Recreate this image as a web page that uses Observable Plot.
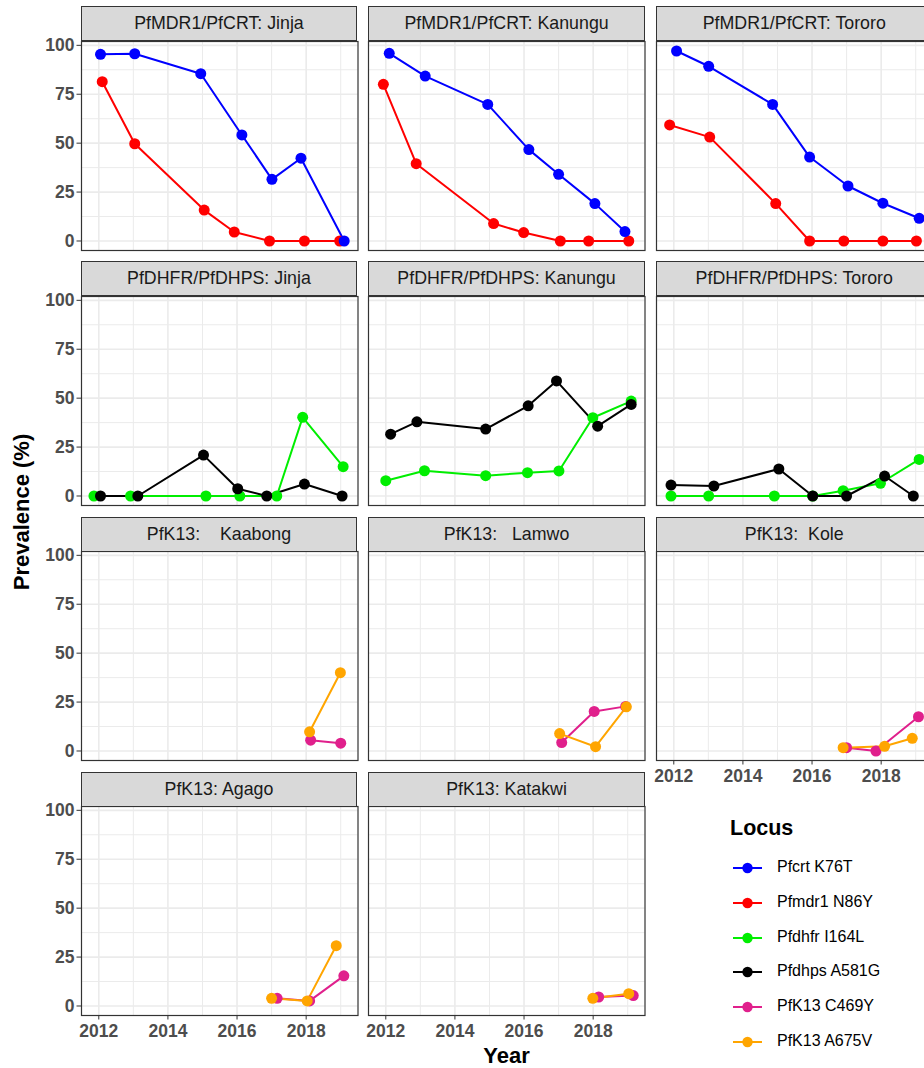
<!DOCTYPE html>
<html><head><meta charset="utf-8">
<script src="https://cdn.jsdelivr.net/npm/d3@7"></script>
<script src="https://cdn.jsdelivr.net/npm/@observablehq/plot@0.6"></script>
<style>
body{margin:0;background:#fff;}
#chart{position:relative;width:924px;height:1068px;overflow:hidden;font-family:"Liberation Sans",Arial,sans-serif;background:#fff;}
.strip{position:absolute;box-sizing:border-box;background:#D9D9D9;border:1.2px solid #333;color:#1A1A1A;font-size:17.8px;display:flex;align-items:center;justify-content:center;white-space:pre;}
.panel{position:absolute;}
.lg{position:absolute;font-size:16px;color:#000;white-space:pre;}
</style></head><body><div id="chart"></div>
<script>
// ---------- data ----------
const loci = ["Pfcrt K76T","Pfmdr1 N86Y","Pfdhfr I164L","Pfdhps A581G","PfK13 C469Y","PfK13 A675V"];
const lociColors = ["#0000FF","#FF0000","#00EE00","#000000","#E0208C","#FFA500"];
const panelTitles = ["PfMDR1/PfCRT: Jinja","PfMDR1/PfCRT: Kanungu","PfMDR1/PfCRT: Tororo",
  "PfDHFR/PfDHPS: Jinja","PfDHFR/PfDHPS: Kanungu","PfDHFR/PfDHPS: Tororo",
  "PfK13:    Kaabong","PfK13:   Lamwo","PfK13:  Kole","PfK13: Agago","PfK13: Katakwi"];
const yTicks = [0,25,50,75,100];
const yMinor = [12.5,37.5,62.5,87.5];
const xTicks = [2012,2014,2016,2018];
const xMinor = [2013,2015,2017,2019];

// [year, prevalence %]
const jinjaCrt = [[2012.05,95.4],[2013.04,95.7],[2014.95,85.5],[2016.14,54.2],[2017.01,31.5],[2017.85,42.3],[2019.1,0]];
const jinjaMdr = [[2012.1,81.4],[2013.04,49.7],[2015.05,15.8],[2015.92,4.6],[2016.94,0],[2017.95,0],[2018.97,0]];
const kanunguCrt = [[2012.1,95.9],[2013.14,84.3],[2014.95,69.8],[2016.14,46.7],[2017.0,34.1],[2018.05,19.1],[2018.92,4.8]];
const kanunguMdr = [[2011.93,80.1],[2012.88,39.5],[2015.12,8.9],[2015.99,4.3],[2017.05,0],[2017.87,0],[2019.03,0]];
const tororoCrt = [[2012.08,97.1],[2013.01,89.3],[2014.86,69.8],[2015.93,42.9],[2017.04,28.1],[2018.05,19.3],[2019.1,11.6]];
const tororoMdr = [[2011.88,59.3],[2013.04,53.1],[2014.95,19.1],[2015.93,0],[2016.92,0],[2018.05,0],[2019.02,0]];
const jinjaDhfr = [[2011.86,0],[2012.92,0],[2015.1,0],[2016.08,0],[2017.15,0],[2017.9,40.2],[2019.07,15]];
const jinjaDhps = [[2012.05,0],[2013.13,0],[2015.03,20.9],[2016.02,3.7],[2016.86,0],[2017.95,6.1],[2019.04,0]];
const kanunguDhfr = [[2012.0,7.8],[2013.12,12.9],[2014.89,10.4],[2016.1,11.9],[2017.01,12.8],[2017.99,40.0],[2019.1,48.5]];
const kanunguDhps = [[2012.14,31.6],[2012.9,37.9],[2014.89,34.2],[2016.12,46.1],[2016.94,58.8],[2018.13,35.7],[2019.1,46.8]];
const tororoDhfr = [[2011.92,0],[2013.01,0],[2014.91,0],[2016.02,0],[2016.9,2.7],[2017.98,6.5],[2019.1,18.7]];
const tororoDhps = [[2011.92,5.6],[2013.16,5.1],[2015.04,13.8],[2016.02,0],[2017.0,0],[2018.1,10.2],[2018.93,0]];
const kaabongC469Y = [[2018.13,5.5],[2019.0,4.0]];
const kaabongA675V = [[2018.1,9.8],[2018.99,40.0]];
const lamwoC469Y = [[2017.09,4.3],[2018.03,20.2],[2018.94,22.8]];
const lamwoA675V = [[2017.03,8.9],[2018.07,2.2],[2018.96,22.6]];
const koleC469Y = [[2017.0,1.7],[2017.85,0],[2019.08,17.5]];
const koleA675V = [[2016.9,1.7],[2018.1,2.4],[2018.9,6.5]];
const agagoC469Y = [[2017.16,3.9],[2018.1,2.6],[2019.09,15.4]];
const agagoA675V = [[2017.0,3.9],[2018.03,2.6],[2018.87,30.8]];
const katakwiC469Y = [[2018.16,4.6],[2019.16,5.3]];
const katakwiA675V = [[2017.99,3.9],[2019.03,6.3]];

// panel index -> list of [locus, series]
const panelSeries = [
  [[loci[1], jinjaMdr],[loci[0], jinjaCrt]],
  [[loci[1], kanunguMdr],[loci[0], kanunguCrt]],
  [[loci[1], tororoMdr],[loci[0], tororoCrt]],
  [[loci[2], jinjaDhfr],[loci[3], jinjaDhps]],
  [[loci[2], kanunguDhfr],[loci[3], kanunguDhps]],
  [[loci[2], tororoDhfr],[loci[3], tororoDhps]],
  [[loci[4], kaabongC469Y],[loci[5], kaabongA675V]],
  [[loci[4], lamwoC469Y],[loci[5], lamwoA675V]],
  [[loci[4], koleC469Y],[loci[5], koleA675V]],
  [[loci[4], agagoC469Y],[loci[5], agagoA675V]],
  [[loci[4], katakwiC469Y],[loci[5], katakwiA675V]]
];

// ---------- layout ----------
const chart = document.getElementById("chart");
const colLeft = [80.7, 368.3, 656];
const PW = 276.5, PH = 209, stripH = 34.5;
const stripTop = r => 6 + r * 255.3;
const ML = 70, MR = 6, MT = 4, MB = 44;
const FONT = '"Liberation Sans", Arial, sans-serif';

panelTitles.forEach((title, i) => {
  const col = i % 3, row = Math.floor(i / 3);
  const left = colLeft[col], top = stripTop(row) + stripH;
  const rows = panelSeries[i].flatMap(([locus, s]) => s.map(([year, value]) => ({locus, year, value})));
  const showY = col === 0;
  const showX = row === 3 || (row === 2 && col === 2);
  const marks = [
    Plot.ruleX(xMinor, {stroke: "#EBEBEB", strokeWidth: 1}),
    Plot.ruleY(yMinor, {stroke: "#EBEBEB", strokeWidth: 1}),
    Plot.ruleX(xTicks, {stroke: "#EBEBEB", strokeWidth: 1.6}),
    Plot.ruleY(yTicks, {stroke: "#EBEBEB", strokeWidth: 1.6}),
    Plot.line(rows, {x: "year", y: "value", stroke: "locus", z: "locus", strokeWidth: 2}),
    Plot.dot(rows, {x: "year", y: "value", fill: "locus", r: 5.5}),
    Plot.frame({stroke: "#333", strokeWidth: 1.2})
  ];
  if (showY) {
    marks.push(Plot.axisY({ticks: yTicks, tickSize: 4.5, text: null, stroke: "#333", label: null}));
    marks.push(Plot.axisY({ticks: yTicks, tickSize: 0, tickPadding: 7, fill: "#4D4D4D", fontSize: 17.5, fontWeight: "bold", label: null}));
  }
  if (showX) {
    marks.push(Plot.axisX({ticks: xTicks, tickSize: 4.5, text: null, stroke: "#333", label: null}));
    marks.push(Plot.axisX({ticks: xTicks, tickSize: 0, tickPadding: 9, fill: "#4D4D4D", fontSize: 17.5, fontWeight: "bold", label: null, tickFormat: d => String(d)}));
  }
  const p = Plot.plot({
    width: PW + ML + MR, height: PH + MT + MB,
    marginLeft: ML, marginRight: MR, marginTop: MT, marginBottom: MB,
    style: {background: "transparent", overflow: "visible", fontFamily: FONT},
    x: {domain: [2011.5, 2019.5], axis: null},
    y: {domain: [-4.86, 101.96], axis: null},
    color: {domain: loci, range: lociColors},
    marks
  });
  p.classList.add("panel");
  p.style.left = (left - ML) + "px";
  p.style.top = (top - MT) + "px";
  chart.appendChild(p);

  const s = document.createElement("div");
  s.className = "strip";
  s.style.left = left + "px"; s.style.top = stripTop(row) + "px";
  s.style.width = PW + "px"; s.style.height = (stripH + 0.6) + "px";
  s.textContent = title;
  chart.appendChild(s);
});

// axis titles
const yt = document.createElement("div");
yt.textContent = "Prevalence (%)";
Object.assign(yt.style, {position: "absolute", left: "22px", top: "512px", transform: "translate(-50%,-50%) rotate(-90deg)",
  fontWeight: "bold", fontSize: "22px", whiteSpace: "nowrap", color: "#000"});
chart.appendChild(yt);
const xt = document.createElement("div");
xt.textContent = "Year";
Object.assign(xt.style, {position: "absolute", left: "506.6px", top: "1056px", transform: "translate(-50%,-50%)",
  fontWeight: "bold", fontSize: "22px", whiteSpace: "nowrap", color: "#000"});
chart.appendChild(xt);

// legend
const lt = document.createElement("div");
lt.textContent = "Locus";
Object.assign(lt.style, {position: "absolute", left: "730px", top: "816px", fontWeight: "bold", fontSize: "21.5px", color: "#000"});
chart.appendChild(lt);
loci.forEach((name, i) => {
  const cy = 868 + i * 34.8;
  const svg = d3.create("svg").attr("width", 34).attr("height", 14)
    .style("position", "absolute").style("left", "731px").style("top", (cy - 7) + "px");
  svg.append("line").attr("x1", 2).attr("x2", 31).attr("y1", 7).attr("y2", 7)
    .attr("stroke", lociColors[i]).attr("stroke-width", 2);
  svg.append("circle").attr("cx", 16.5).attr("cy", 7).attr("r", 5.2).attr("fill", lociColors[i]);
  chart.appendChild(svg.node());
  const t = document.createElement("div");
  t.className = "lg";
  t.textContent = name;
  t.style.left = "777px"; t.style.top = (cy - 10) + "px";
  chart.appendChild(t);
});
</script></body></html>
